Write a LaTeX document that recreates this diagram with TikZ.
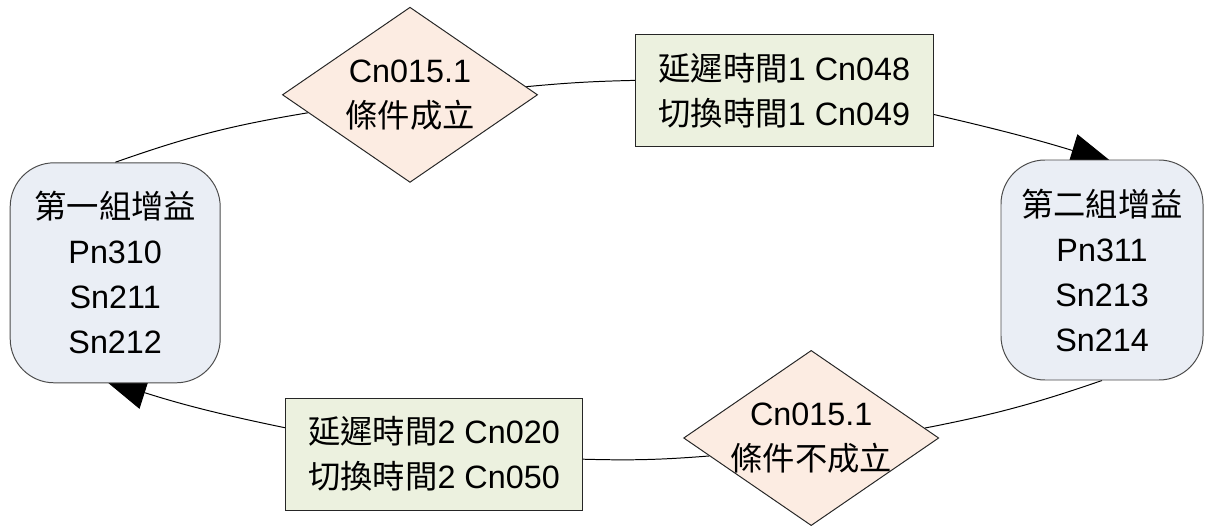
\documentclass[tikz,border=0pt]{standalone}
\usepackage{fontspec}
\setmainfont{Liberation Sans}
\newfontfamily\zh{Noto Sans CJK TC}
\usetikzlibrary{arrows.meta,shapes.geometric,backgrounds}

\definecolor{gainfill}{RGB}{234,238,245}
\definecolor{condfill}{RGB}{252,236,226}
\definecolor{timefill}{RGB}{236,241,223}

\begin{document}
\begin{tikzpicture}[
  every node/.style={font=\fontsize{23}{32}\selectfont, align=center, line width=0.7pt},
  gain/.style={draw=black!70, fill=gainfill, rounded corners=1.1cm,
               minimum width=5.2cm, minimum height=5.5cm},
  cond/.style={diamond, draw=black!85, fill=condfill, inner sep=-16pt,
               minimum width=6.38cm, minimum height=4.38cm},
  delay/.style={draw=black!85, fill=timefill, minimum width=7.43cm, minimum height=2.8cm},
  link/.style={line width=0.7pt},
  tip/.style={link, -{Triangle[length=30pt,width=24pt]}, shorten >=-8pt}
]
  \useasboundingbox (0,0) rectangle (30.15,13.15);
  % gain sets
  \node[gain, minimum width=5.25cm] (gainA) at (2.88,6.33) {{\zh 第一組增益}\\Pn310\\Sn211\\Sn212};
  \node[gain, minimum width=5.05cm] (gainB) at (27.55,6.4) {{\zh 第二組增益}\\Pn311\\Sn213\\Sn214};
  % conditions
  \node[cond] (condA) at (10.25,10.78) {Cn015.1\\{\zh 條件成立}};
  \node[cond] (condB) at (20.28,2.2) {Cn015.1\\{\zh 條件不成立}};
  % delay and switch times
  \node[delay] (timeA) at (19.61,10.88) {{\zh 延遲時間}1 Cn048\\{\zh 切換時間}1 Cn049};
  \node[delay] (timeB) at (10.85,1.8) {{\zh 延遲時間}2 Cn020\\{\zh 切換時間}2 Cn050};
  \begin{scope}[on background layer]
    \draw[link] (gainA.north) to[bend left=5] (condA.190);
    \draw[link] (condA.4) to[bend left=2] (timeA.176);
    \draw[tip] (timeA.-9) to[bend left=2] (gainB.north);
    \draw[link] (gainB.south) to[bend left=4] (condB.5);
    \draw[link] (condB.190) to[bend left=3] (timeB.-2);
    \draw[tip] (timeB.170) to[bend left=3] (gainA.south);
  \end{scope}
\end{tikzpicture}
\end{document}
